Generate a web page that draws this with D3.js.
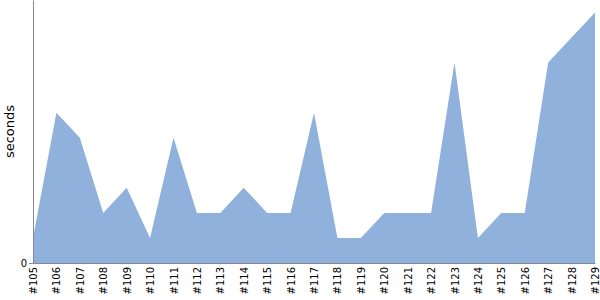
<!DOCTYPE html>
<html>
<head>
<meta charset="utf-8">
<script src="https://cdn.jsdelivr.net/npm/d3@7"></script>
<style>
body { margin: 0; background: #fff; }
svg text { font-family: "DejaVu Sans", sans-serif; }
.axis path, .axis line { stroke: #888; }
</style>
</head>
<body>
<svg id="chart" width="600" height="300"></svg>
<script>
// builds
var builds = ["#105","#106","#107","#108","#109","#110","#111","#112","#113","#114",
  "#115","#116","#117","#118","#119","#120","#121","#122","#123","#124",
  "#125","#126","#127","#128","#129"];
// durations (seconds)
var seconds = [1, 6, 5, 2, 3, 1, 5, 2, 2, 3,
  2, 2, 6, 1, 1, 2, 2, 2, 8, 1,
  2, 2, 8, 9, 10];
var yTicks = [0];

var margin = {top: 0, right: 5, bottom: 37, left: 33};
var width = 600 - margin.left - margin.right;
var height = 300 - margin.top - margin.bottom;

var svg = d3.select("#chart");
var g = svg.append("g")
  .attr("transform", "translate(" + margin.left + "," + margin.top + ")");

var x = d3.scalePoint().domain(builds).range([0, width]);
var y = d3.scaleLinear().domain([0, d3.max(seconds) * 1.05]).range([height, 0]);

var area = d3.area()
  .x(function(d, i) { return x(builds[i]); })
  .y0(height)
  .y1(function(d) { return y(d); });

g.append("path")
  .datum(seconds)
  .attr("d", area)
  .attr("fill", "#8fb1db");

// x 축
var xAxis = g.append("g")
  .attr("class", "axis")
  .attr("transform", "translate(0," + height + ")")
  .call(d3.axisBottom(x).tickSize(0).tickPadding(4));
xAxis.selectAll("text")
  .attr("font-size", 10)
  .attr("fill", "#000")
  .attr("transform", "rotate(-90)")
  .attr("text-anchor", "end")
  .attr("x", -4)
  .attr("y", 0)
  .attr("dy", "0.35em");

// y 축
var yAxis = g.append("g")
  .attr("class", "axis")
  .call(d3.axisLeft(y).tickValues(yTicks).tickSize(4).tickPadding(2).tickSizeOuter(0));
yAxis.selectAll("text").attr("font-size", 10).attr("fill", "#000");

svg.append("text")
  .attr("transform", "translate(14," + (height / 2) + ") rotate(-90)")
  .attr("text-anchor", "middle")
  .attr("font-size", 13)
  .text("seconds");
</script>
</body>
</html>
